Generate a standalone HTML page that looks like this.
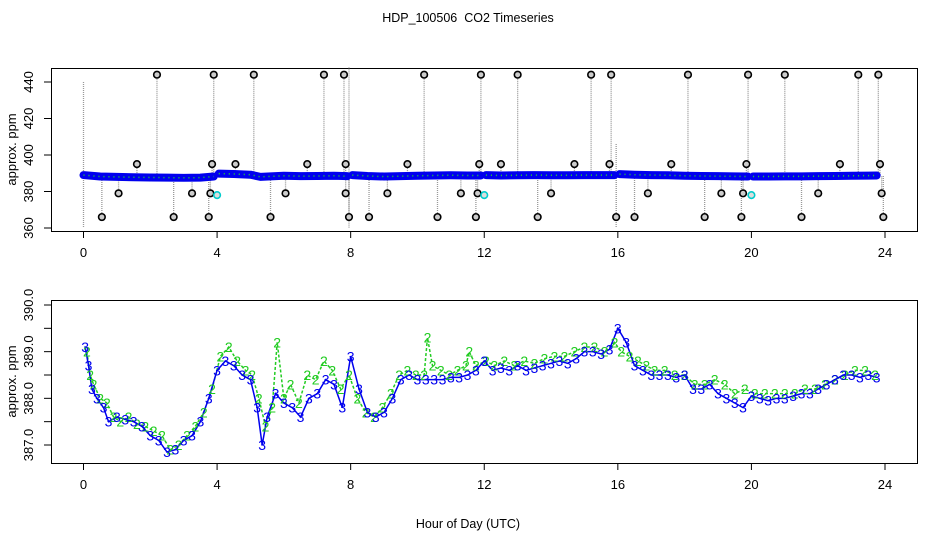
<!DOCTYPE html>
<html><head><meta charset="utf-8"><style>
html,body{margin:0;padding:0;background:#fff}
svg{display:block;font-family:"Liberation Sans",sans-serif}
</style></head><body>
<svg id="c" width="936" height="540" viewBox="0 0 936 540"></svg>
<script>
const topT=[0,0.5,1,1.5,2,2.5,3,3.5,3.9,null,4.05,4.5,5,5.3,5.6,6,6.5,7,7.5,7.9,null,8.05,8.5,9,9.5,10,10.5,11,11.5,11.9,null,12.05,12.5,13,13.5,14,14.5,15,15.5,15.9,null,16.05,16.5,17,17.5,18,18.5,19,19.5,19.9,null,20.05,20.5,21,21.5,22,22.5,23,23.5,23.75];
const topV=[389,388.2,388,387.8,387.7,387.6,387.5,387.6,388.2,null,389.8,389.6,389.2,388,388.3,388.6,388.4,388.5,388.6,388.4,null,389,388.5,388.2,388.4,388.6,388.8,388.9,388.8,388.8,null,389,388.8,388.9,389,388.9,388.9,389,389,389,null,389.5,389.2,389,388.9,388.6,388.5,388.4,388.3,388.2,null,388.2,388.2,388.3,388.3,388.4,388.5,388.6,388.7,388.8];
const outT=[2.2,3.9,5.1,7.2,7.8,10.2,11.9,13.0,15.2,15.8,18.1,19.9,21.0,23.2,23.8,1.6,3.85,4.55,6.7,7.85,9.7,11.85,12.5,14.7,15.75,17.6,19.85,22.65,23.85,1.05,3.25,3.8,6.05,7.85,9.1,11.3,11.8,14.0,16.9,19.1,19.75,22.0,23.9,0.55,2.7,3.75,5.6,7.95,8.55,10.6,11.75,13.6,15.95,16.5,18.6,19.7,21.5,23.95];
const outV=[444,444,444,444,444,444,444,444,444,444,444,444,444,444,444,395,395,395,395,395,395,395,395,395,395,395,395,395,395,379,379,379,379,379,379,379,379,379,379,379,379,379,379,366,366,366,366,366,366,366,366,366,366,366,366,366,366,366,366];
const cyanT=[4.0,12.0,20.0];
const cyanV=[378,378,378];
const blueT=[0.05,0.15,0.25,0.4,0.6,0.75,1,1.25,1.5,1.75,2,2.25,2.5,2.75,3,3.25,3.5,3.75,4,4.25,4.5,4.75,5,5.2,5.35,5.5,5.75,6,6.25,6.5,6.75,7,7.25,7.5,7.75,8,8.25,8.5,8.75,9,9.25,9.5,9.75,10,10.25,10.5,10.75,11,11.25,11.5,11.75,12,12.25,12.5,12.75,13,13.25,13.5,13.75,14,14.25,14.5,14.75,15,15.25,15.5,15.75,16,16.25,16.5,16.75,17,17.25,17.5,17.75,18,18.25,18.5,18.75,19,19.25,19.5,19.75,20,20.25,20.5,20.75,21,21.25,21.5,21.75,22,22.25,22.5,22.75,23,23.25,23.5,23.75];
const blueV=[389.1,388.7,388.2,388.0,387.8,387.5,387.6,387.55,387.5,387.4,387.2,387.1,386.85,386.9,387.1,387.2,387.5,388.0,388.6,388.8,388.7,388.5,388.4,387.8,387.0,387.6,388.1,387.9,387.8,387.6,388.0,388.1,388.4,388.3,387.8,388.9,388.2,387.7,387.6,387.7,388.0,388.4,388.5,388.4,388.4,388.4,388.4,388.45,388.45,388.5,388.6,388.8,388.6,388.65,388.6,388.7,388.6,388.65,388.7,388.75,388.8,388.75,388.85,389.0,389.0,388.95,389.05,389.5,389.2,388.7,388.6,388.5,388.5,388.5,388.45,388.5,388.2,388.2,388.3,388.1,388.0,387.9,387.8,388.05,388.0,387.95,388.0,388.0,388.05,388.1,388.1,388.2,388.3,388.4,388.5,388.5,388.45,388.5,388.45];
const greenT=[0.1,0.2,0.3,0.5,0.7,0.9,1.1,1.35,1.6,1.85,2.1,2.35,2.6,2.85,3.1,3.35,3.6,3.85,4.1,4.35,4.6,4.85,5.05,5.25,5.45,5.65,5.8,6.0,6.2,6.45,6.7,6.95,7.2,7.45,7.7,7.95,8.2,8.45,8.7,8.95,9.2,9.45,9.7,9.95,10.2,10.3,10.45,10.7,10.95,11.2,11.45,11.55,11.75,12.05,12.3,12.6,12.9,13.2,13.5,13.8,14.1,14.4,14.7,15.0,15.3,15.6,15.9,16.1,16.35,16.6,16.85,17.1,17.4,17.7,18.0,18.3,18.6,18.9,19.2,19.5,19.8,20.1,20.4,20.7,21.0,21.3,21.6,21.9,22.2,22.5,22.8,23.1,23.4,23.7];
const greenV=[389.0,388.5,388.3,388.0,387.9,387.6,387.5,387.6,387.45,387.4,387.3,387.2,386.9,387.0,387.2,387.4,387.7,388.2,388.9,389.1,388.8,388.6,388.5,388.0,387.4,387.8,389.2,388.0,388.3,387.9,388.5,388.4,388.8,388.6,388.2,388.5,388.0,387.7,387.6,387.8,388.1,388.5,388.6,388.5,388.5,389.3,388.7,388.6,388.5,388.6,388.7,389.0,388.7,388.8,388.7,388.8,388.7,388.8,388.75,388.85,388.9,388.9,389.0,389.1,389.1,389.0,389.2,389.0,388.9,388.8,388.7,388.6,388.6,388.5,388.5,388.3,388.3,388.4,388.3,388.1,388.2,388.1,388.1,388.1,388.1,388.1,388.2,388.2,388.3,388.4,388.5,388.6,388.6,388.5];
const xTicks=[0,4,8,12,16,20,24];
const topYTicks=[360,380,400,420,440];
const botYTicks=["387.0","388.0","389.0","390.0"];
const botYMinor=[387.5,388.5,389.5];

const NS="http://www.w3.org/2000/svg";
const svg=document.getElementById('c');
function mk(tag,attrs,parent){const e=document.createElementNS(NS,tag);for(const k in attrs)e.setAttribute(k,attrs[k]);(parent||svg).appendChild(e);return e;}
const X=h=>83.5+h*(885-83.5)/24;
const YT=v=>228-(v-360)*1.825;
const YB=v=>445-(v-387)*46.67;

let t=mk('text',{x:468,y:22,'text-anchor':'middle','font-size':12.5});


t.textContent='HDP_100506\u00a0 CO2 Timeseries';
t=mk('text',{x:468,y:528,'text-anchor':'middle','font-size':12.5});


t.textContent='Hour of Day (UTC)';

function axes(top,bot,yfun,ticks,minor,name){
  const g=mk('g',{});
  
  
  mk('rect',{x:51.5,y:top+0.5,width:866,height:bot-top,fill:'none',stroke:'#000'},g);
  xTicks.forEach(h=>{
    mk('line',{x1:X(h),x2:X(h),y1:bot,y2:bot+7,stroke:'#000'},g);
    const l=mk('text',{x:X(h),y:bot+26,'text-anchor':'middle','font-size':13},g);
    
    
    l.textContent=h;
  });
  ticks.forEach(v=>{
    const y=yfun(+v);
    mk('line',{x1:44,x2:51.5,y1:y,y2:y,stroke:'#000'},g);
    const l=mk('text',{x:0,y:0,'text-anchor':'middle','font-size':13,transform:`translate(33,${y}) rotate(-90)`},g);
    
    
    l.textContent=v;
  });
  minor.forEach(v=>{const y=yfun(v);mk('line',{x1:44,x2:51.5,y1:y,y2:y,stroke:'#000'},g);});
  const yl=mk('text',{x:0,y:0,'text-anchor':'middle','font-size':13,transform:`translate(16,${(top+bot)/2}) rotate(-90)`},g);
  
  
  yl.textContent='approx. ppm';
}
axes(68,231,YT,topYTicks,[],'top-panel');
axes(300,463,YB,botYTicks,botYMinor,'bottom-panel');

const gt=mk('g',{});


[[0,440,360],[7.95,448,360],[15.95,406,360]].forEach(a=>mk('line',{x1:X(a[0]),x2:X(a[0]),y1:YT(a[1]),y2:YT(a[2]),stroke:'#999','stroke-dasharray':'1,1','stroke-width':1.3},gt));
outT.forEach((h,i)=>{
  mk('line',{x1:X(h),x2:X(h),y1:YT(outV[i]),y2:YT(388.5),stroke:'#999','stroke-dasharray':'1,1','stroke-width':1.3},gt);
});
let seg=[];
const segs=[];
topT.forEach((h,i)=>{if(h===null){segs.push(seg);seg=[];}else seg.push(X(h)+','+YT(topV[i]));});
segs.push(seg);
segs.forEach(s=>{
  const p=mk('polyline',{points:s.join(' '),fill:'none',stroke:'#0000ee','stroke-width':8,'stroke-linecap':'round','stroke-linejoin':'round'},gt);
  
  
  mk('polyline',{points:s.join(' '),fill:'none',stroke:'#22dd22','stroke-width':1.5,'stroke-dasharray':'1,4'},gt);
});
outT.forEach((h,i)=>{
  const c=mk('circle',{cx:X(h),cy:YT(outV[i]),r:3.3,fill:'#ccc',stroke:'#000','stroke-width':1.6},gt);
  
  
});
cyanT.forEach((h,i)=>{
  const c=mk('circle',{cx:X(h),cy:YT(cyanV[i]),r:3.3,fill:'#ddd',stroke:'#00cccc','stroke-width':1.6},gt);
  
  
});

const gb=mk('g',{});


const gp=mk('polyline',{points:greenT.map((h,i)=>X(h)+','+YB(greenV[i])).join(' '),fill:'none',stroke:'#22cc22','stroke-width':1.5,'stroke-dasharray':'3,2'},gb);


const bp=mk('polyline',{points:blueT.map((h,i)=>X(h)+','+YB(blueV[i])).join(' '),fill:'none',stroke:'#0000ee','stroke-width':1.5},gb);


greenT.forEach((h,i)=>{
  const l=mk('text',{x:X(h),y:YB(greenV[i])+5,'text-anchor':'middle','font-size':14,fill:'#22cc22'},gb);
  
  
  l.textContent='2';
});
blueT.forEach((h,i)=>{
  const l=mk('text',{x:X(h),y:YB(blueV[i])+5,'text-anchor':'middle','font-size':14,fill:'#0000ee'},gb);
  
  
  l.textContent='3';
});
</script>
</body></html>
